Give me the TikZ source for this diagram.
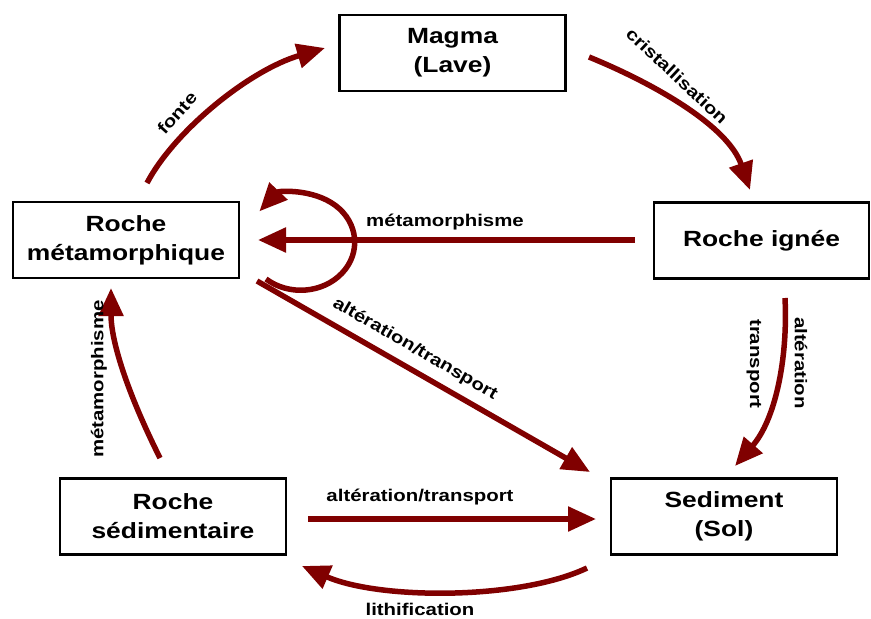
\documentclass[tikz,border=0pt]{standalone}
\usepackage{fontspec}
\usepackage{graphicx}
\setmainfont{Liberation Sans}
\usetikzlibrary{arrows.meta}
\definecolor{maroonred}{RGB}{128,0,0}
\newcommand\hx[1]{\scalebox{1.2}[1]{#1}}
\tikzset{
  rockbox/.style={draw=black, line width=2.6pt, fill=white, inner sep=0pt,
    minimum width=226pt, minimum height=76pt, align=center,
    font=\fontsize{22}{29}\selectfont\bfseries},
  flow/.style={draw=maroonred, line width=5.5pt,
    -{Triangle[length=28pt,width=24pt]}},
  lbl/.style={inner sep=0pt, font=\fontsize{17}{20}\selectfont\bfseries}
}
\begin{document}
\begin{tikzpicture}[x=1pt,y=-1pt]
\useasboundingbox (0,0) rectangle (871,619);

% boxes
\node[rockbox] (magma) at (452.5,53) {\hx{Magma}\\\hx{(Lave)}};
\node[rockbox] (meta) at (126,240) {\hx{Roche}\\\hx{métamorphique}};
\node[rockbox, minimum width=215pt] (ign) at (761.5,240.5) {\hx{Roche ignée}};
\node[rockbox] (sedr) at (173,516.5) {\hx{Roche}\\\hx{sédimentaire}};
\node[rockbox] (sol) at (724,516.5) {\hx{Sediment}\\\hx{(Sol)}};

% connector end points
\coordinate (fonteS) at (147,183);
\coordinate (fonteE) at (325,48);
\coordinate (cristS) at (589,57);
\coordinate (cristE) at (750,190);
\coordinate (metaHS) at (635,240);
\coordinate (metaHE) at (258,240);
\coordinate (loopS) at (266,279);
\coordinate (diagS) at (257,281);
\coordinate (diagE) at (590,472);
\coordinate (altS) at (785,298);
\coordinate (altE) at (735,466);
\coordinate (metaVS) at (160,458);
\coordinate (metaVE) at (111,288);
\coordinate (horS) at (308,519);
\coordinate (horE) at (596,519);
\coordinate (lithS) at (587,568);
\coordinate (lithE) at (302,566);

% arrows
\draw[flow] (fonteS) .. controls (175,130) and (250,70) .. (fonteE);
\draw[flow] (cristS) .. controls (655,84) and (728,126) .. (cristE);
\draw[flow] (metaHS) -- (metaHE);
\draw[flow] (loopS) arc[start angle=130, end angle=-140, x radius=54, y radius=48];
\draw[flow] (diagS) -- (diagE);
\draw[flow] (altS) .. controls (788,360) and (775,420) .. (altE);
\draw[flow] (metaVS) .. controls (126,390) and (111,340) .. (metaVE);
\draw[flow] (horS) -- (horE);
\draw[flow] (lithS) .. controls (520,600) and (380,600) .. (lithE);

% labels
\node[lbl, rotate=48] (lfonte) at (177,113) {\hx{fonte}};
\node[lbl, rotate=-43] (lcrist) at (677,76) {\hx{cristallisation}};
\node[lbl] (lmetaH) at (445,222) {\hx{métamorphisme}};
\node[lbl, rotate=-30] (ldiag) at (415,349) {\hx{altération/transport}};
\node[lbl, rotate=-90] (ltrans) at (754,364) {\hx{transport}};
\node[lbl, rotate=-90] (lalt) at (801,363) {\hx{altération}};
\node[lbl, rotate=90] (lmetaV) at (99,379) {\hx{métamorphisme}};
\node[lbl] (lhor) at (420,497) {\hx{altération/transport}};
\node[lbl] (llith) at (420,609) {\hx{lithification}};
\end{tikzpicture}
\end{document}
